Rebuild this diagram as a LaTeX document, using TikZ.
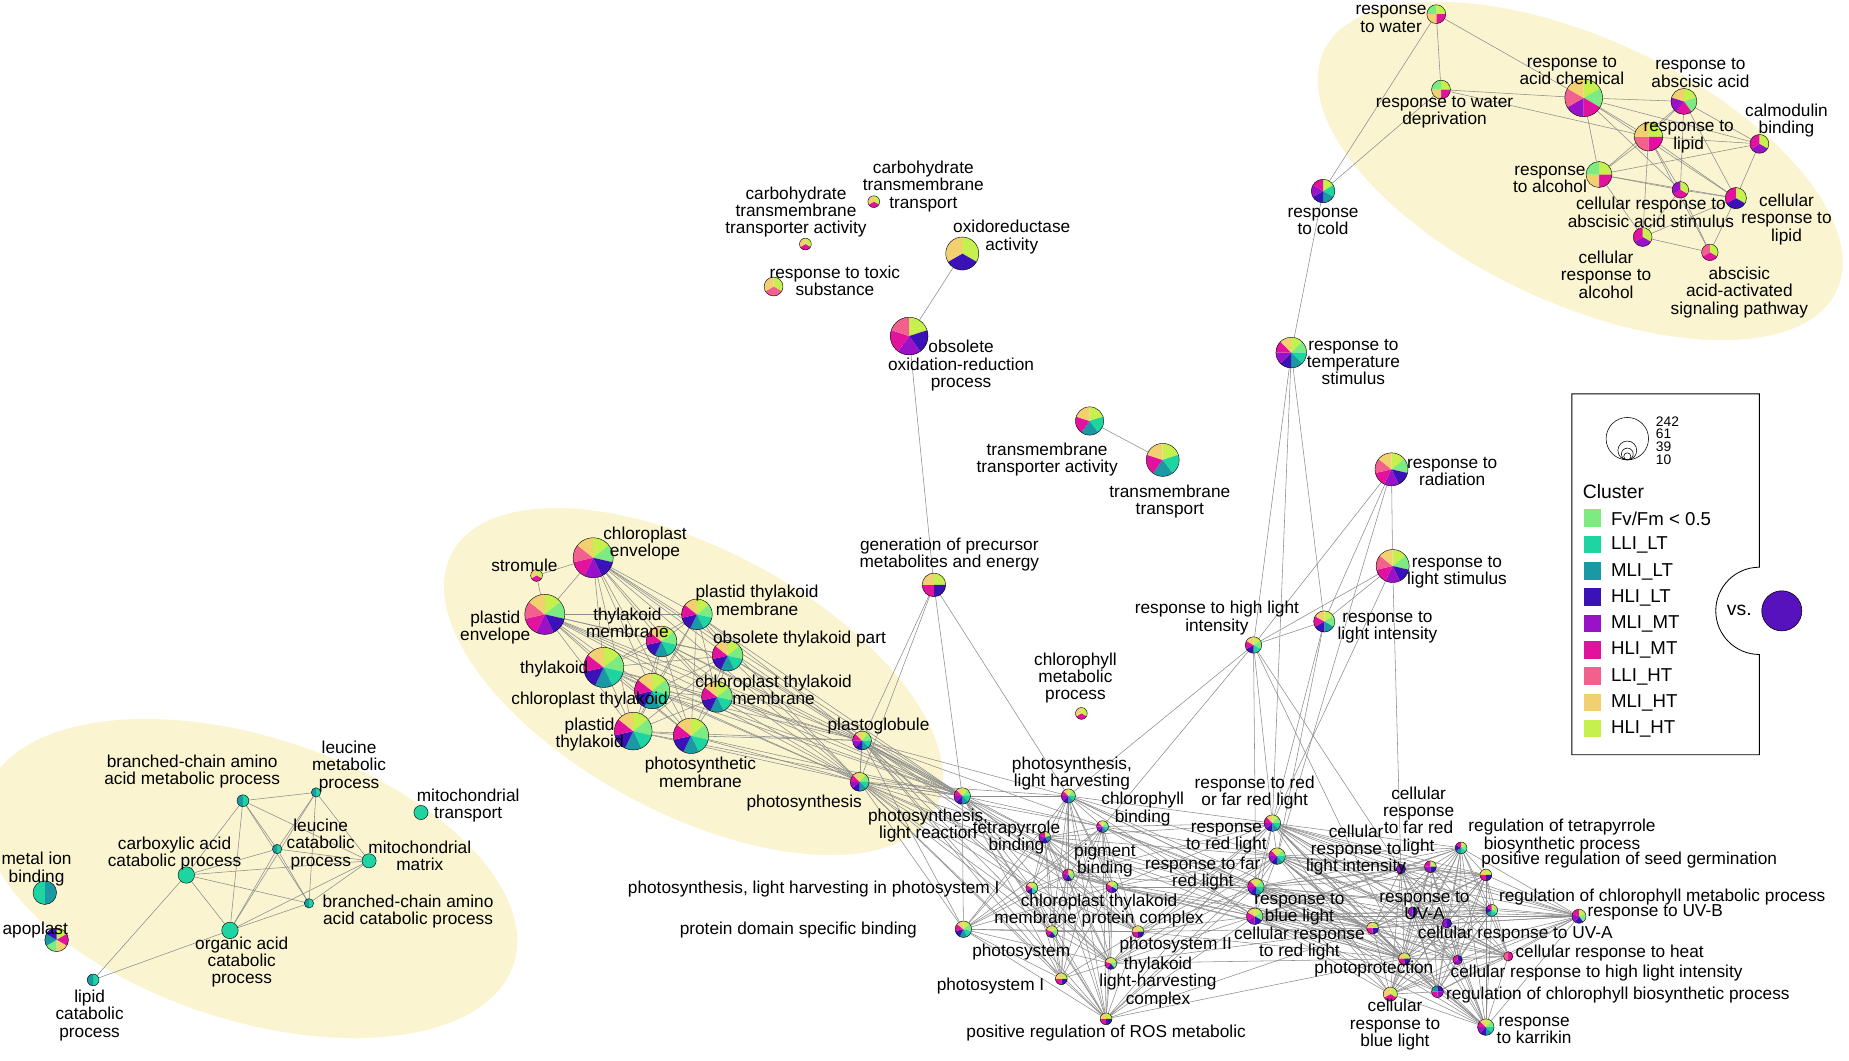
\documentclass[tikz,border=0pt]{standalone}
\usepackage{fontspec}
\setmainfont{Liberation Sans}
\usetikzlibrary{backgrounds}
\definecolor{fv}{HTML}{7CEB82}
\definecolor{llt}{HTML}{1ED4A0}
\definecolor{mlt}{HTML}{1A98A4}
\definecolor{hlt}{HTML}{3A12B8}
\definecolor{mmt}{HTML}{9A12C8}
\definecolor{hmt}{HTML}{E2129E}
\definecolor{lht}{HTML}{F2618E}
\definecolor{mht}{HTML}{F2D070}
\definecolor{hht}{HTML}{C6F04E}
\definecolor{blob}{HTML}{FAF5D0}
\tikzset{
  pie/.style={circle,inner sep=0pt,minimum size=#1*0.6mm},
  lab/.style={align=center,inner sep=0pt,font=\fontsize{12.5}{12.5}\selectfont},
  edge/.style={gray!90,line width=0.4pt},
}
% pie node: name, x, y, radius, colours
\newcommand{\pienode}[5]{%
  \node[pie=#4] (#1) at (#2,#3) {};
  \foreach \c [count=\i] in {#5} {\xdef\npie{\i}}
  \foreach \c [count=\i] in {#5} {
    \fill[\c] (#1.center) -- ++({90-360*(\i-1)/\npie}:#4*0.3mm)
      arc[start angle={90-360*(\i-1)/\npie}, end angle={90-360*\i/\npie}, radius=#4*0.3mm] -- cycle;}
  \draw[line width=0.3pt] (#1.center) circle[radius=#4*0.3mm];
}
\begin{document}
\begin{tikzpicture}[x=0.3mm,y=-0.3mm]
\useasboundingbox (0,0) rectangle (1568,899);
\begin{pgfonlayer}{background}
  \fill[blob,rotate around={-25:(1340,145)}] (1340,145) ellipse[x radius=240*0.3mm,y radius=112*0.3mm];
  \fill[blob,rotate around={-28:(588,578)}] (588,578) ellipse[x radius=232*0.3mm,y radius=112*0.3mm];
  \fill[blob,rotate around={-18:(212,745)}] (212,745) ellipse[x radius=235*0.3mm,y radius=120*0.3mm];
\end{pgfonlayer}
% top right
\pienode{rwater}{1218}{12}{8}{hht,hmt,mht,fv}
\pienode{rwdep}{1222}{76}{8}{hht,hmt,mht,fv}
\pienode{racid}{1343}{83}{16}{hht,fv,hmt,mmt,lht,mht}
\pienode{raba}{1428}{86}{11}{hht,fv,hmt,mmt,mht}
\pienode{rlipid}{1398}{116}{12}{hht,hmt,lht,mht}
\pienode{calm}{1492}{122}{8}{hht,mmt,hmt}
\pienode{ralc}{1356}{148}{11}{hht,hmt,mht,fv}
\pienode{cabas}{1425}{161}{7}{hht,hmt,mmt}
\pienode{crlipid}{1472}{168}{9}{hht,hlt,hmt}
\pienode{rcold}{1122}{162}{10}{hht,llt,mlt,hlt,mmt,hmt}
\pienode{cralc}{1393}{201}{8}{hht,mmt,hmt}
\pienode{abasig}{1450}{214}{7}{hht,hmt,lht}
\pienode{rtemp}{1095}{299}{13}{hht,fv,llt,mlt,hlt,mmt,hmt,mht}
\pienode{rrad}{1180}{398}{14}{hht,fv,hlt,mmt,hmt,lht,mht}
\pienode{rlstim}{1181}{480}{14}{hht,fv,hlt,mmt,hmt,lht,mht}
\pienode{rlint}{1123}{527}{9}{hht,fv,mlt,hlt,hmt,mht}
\pienode{rhlint}{1063}{547}{7}{hht,fv,llt,hlt,hmt,mht}
\node[lab,anchor=east] (rwater-l) at (1210,16) {response\\to water};
\node[lab] (rwdep-l) at (1225,95) {response to water\\deprivation};
\node[lab] (racid-l) at (1333,60) {response to\\acid chemical};
\node[lab] (raba-l) at (1442,62) {response to\\abscisic acid};
\node[lab] (rlipid-l) at (1432,116) {response to\\lipid};
\node[lab] (calm-l) at (1515,102) {calmodulin\\binding};
\node[lab,anchor=east] (ralc-l) at (1346,152) {response\\to alcohol};
\node[lab] (cabas-l) at (1400,180) {cellular response to\\abscisic acid stimulus};
\node[lab] (crlipid-l) at (1515,186) {cellular\\response to\\lipid};
\node[lab] (rcold-l) at (1122,188) {response\\to cold};
\node[lab] (cralc-l) at (1362,233) {cellular\\response to\\alcohol};
\node[lab] (abasig-l) at (1475,248) {abscisic\\acid-activated\\signaling pathway};
\node[lab,anchor=west] (rtemp-l) at (1108,307) {response to\\temperature\\stimulus};
\node[lab,anchor=west] (rrad-l) at (1193,400) {response to\\radiation};
\node[lab,anchor=west] (rlstim-l) at (1193,485) {response to\\light stimulus};
\node[lab,anchor=west] (rlint-l) at (1134,532) {response to\\light intensity};
\node[lab] (rhlint-l) at (1032,524) {response to high light\\intensity};
% middle top
\pienode{cbtt}{741}{171}{5}{hht,hmt,mht}
\pienode{cbta}{683}{207}{5}{hht,hmt,mht}
\pienode{oxact}{816}{215}{14}{hht,hlt,mht}
\pienode{rtox}{656}{243}{8}{hht,lht,mht}
\pienode{oxred}{771}{285}{16}{hht,hlt,mmt,hmt,lht}
\pienode{tmta}{924}{357}{12}{hht,llt,mlt,hmt,mht}
\pienode{tmt}{986}{390}{14}{hht,llt,mlt,hmt,mht}
\pienode{genprec}{792}{496}{10}{hht,hlt,hmt,mht}
\pienode{chlmet}{917}{605}{5}{hht,hmt,mht}
\node[lab] (cbtt-l) at (783,158) {carbohydrate\\transmembrane\\transport};
\node[lab] (cbta-l) at (675,180) {carbohydrate\\transmembrane\\transporter activity};
\node[lab] (oxact-l) at (858,201) {oxidoreductase\\activity};
\node[lab] (rtox-l) at (708,238) {response to toxic\\substance};
\node[lab] (oxred-l) at (815,310) {obsolete\\oxidation-reduction\\process};
\node[lab] (tmta-l) at (888,390) {transmembrane\\transporter activity};
\node[lab] (tmt-l) at (992,425) {transmembrane\\transport};
\node[lab] (genprec-l) at (805,470) {generation of precursor\\metabolites and energy};
\node[lab] (chlmet-l) at (912,575) {chlorophyll\\metabolic\\process};
% chloroplast cluster
\pienode{stromule}{455}{488}{5}{hht,hmt,mht}
\pienode{cenv}{503}{473}{17}{hht,fv,hlt,mmt,hmt,lht,mht}
\pienode{penv}{462}{521}{17}{hht,fv,hlt,mmt,hmt,lht,mht}
\pienode{ptm}{591}{521}{13}{hht,fv,llt,mlt,hlt,hmt,mht}
\pienode{tm}{561}{544}{13}{hht,fv,llt,mlt,hlt,hmt,mht}
\pienode{otp}{617}{556}{13}{hht,fv,llt,mlt,hlt,hmt,mht}
\pienode{thyl}{512}{566}{17}{hht,fv,llt,mlt,hlt,hmt,mht}
\pienode{chthyl}{553}{586}{15}{hht,fv,llt,mlt,hlt,hmt,mht}
\pienode{ctm}{608}{591}{13}{hht,fv,llt,mlt,hlt,hmt,mht}
\pienode{pthyl}{537}{620}{16}{hht,fv,llt,mlt,hlt,hmt,mht}
\pienode{psm}{586}{624}{15}{hht,fv,llt,mlt,hlt,hmt,mht}
\pienode{plglob}{731}{628}{8}{hht,fv,llt,mlt,hlt,mmt,hmt,mht}
\pienode{photos}{729}{663}{8}{hht,fv,llt,mlt,hlt,mmt,hmt,mht}
\node[lab,anchor=east] (stromule-l) at (473,479) {stromule};
\node[lab] (cenv-l) at (547,461) {chloroplast\\envelope};
\node[lab] (penv-l) at (420,532) {plastid\\envelope};
\node[lab] (ptm-l) at (642,509) {plastid thylakoid\\membrane};
\node[lab] (tm-l) at (532,528) {thylakoid\\membrane};
\node[lab] (otp-l) at (678,542) {obsolete thylakoid part};
\node[lab] (thyl-l) at (470,567) {thylakoid};
\node[lab] (chthyl-l) at (500,594) {chloroplast thylakoid};
\node[lab] (ctm-l) at (656,585) {chloroplast thylakoid\\membrane};
\node[lab] (pthyl-l) at (500,623) {plastid\\thylakoid};
\node[lab] (psm-l) at (594,655) {photosynthetic\\membrane};
\node[lab] (plglob-l) at (745,616) {plastoglobule};
\node[lab] (photos-l) at (682,681) {photosynthesis};
% bottom left cluster
\pienode{bcaamp}{206}{679}{5}{llt,mlt}
\pienode{lmp}{268}{672}{4}{llt,mlt}
\pienode{mito}{357}{689}{6}{llt}
\pienode{lcp}{235}{720}{4}{llt,mlt}
\pienode{mmat}{313}{730}{6}{llt}
\pienode{carb}{158}{742}{7}{llt}
\pienode{mib}{38}{757}{10}{mlt,llt}
\pienode{bcaac}{262}{766}{4}{llt,mlt}
\pienode{apo}{48}{797}{10}{hht,hmt,mht,fv,mlt,hlt}
\pienode{oacp}{195}{789}{7}{llt}
\pienode{lipcat}{79}{831}{5}{llt,mlt}
\node[lab] (bcaamp-l) at (163,654) {branched-chain amino\\acid metabolic process};
\node[lab] (lmp-l) at (296,650) {leucine\\metabolic\\process};
\node[lab] (mito-l) at (397,683) {mitochondrial\\transport};
\node[lab] (lcp-l) at (272,716) {leucine\\catabolic\\process};
\node[lab] (mmat-l) at (356,726) {mitochondrial\\matrix};
\node[lab] (carb-l) at (148,724) {carboxylic acid\\catabolic process};
\node[lab] (mib-l) at (31,737) {metal ion\\binding};
\node[lab] (bcaac-l) at (346,773) {branched-chain amino\\acid catabolic process};
\node[lab,anchor=west] (apo-l) at (2,789) {apoplast};
\node[lab] (oacp-l) at (205,816) {organic acid\\catabolic\\process};
\node[lab] (lipcat-l) at (76,861) {lipid\\catabolic\\process};
% bottom centre
\pienode{pslr}{816}{675}{7}{hht,fv,llt,mlt,hlt,mmt,hmt,mht}
\pienode{pslh}{906}{675}{6}{hht,fv,llt,mlt,hlt,mmt,hmt,mht}
\pienode{chlbind}{935}{701}{5}{hht,fv,llt,mlt,hlt,mmt,hmt,mht}
\pienode{tetra}{886}{710}{5}{hht,mlt,hlt,mmt,hmt}
\pienode{pigbind}{906}{742}{5}{hht,fv,hlt,mmt,hmt}
\pienode{pslhps1}{875}{753}{5}{hht,fv,llt,hlt,hmt,mht}
\pienode{mpc}{943}{752}{5}{hht,fv,hlt,mmt,hmt,mht}
\pienode{pdsb}{817}{788}{7}{hht,fv,llt,mlt,hlt,hmt,mht}
\pienode{psystem}{892}{790}{5}{hht,fv,hlt,hmt,mht}
\pienode{ps2}{965}{790}{5}{hht,hlt,hmt,mht}
\pienode{thylhc}{942}{817}{5}{hht,fv,hlt,hmt,mht}
\pienode{ps1}{900}{830}{5}{hht,hlt,hmt,mht}
\pienode{posros}{938}{864}{5}{hht,hlt,hmt,mht}
\node[lab] (pslr-l) at (787,700) {photosynthesis,\\light reaction};
\node[lab] (pslh-l) at (909,656) {photosynthesis,\\light harvesting};
\node[lab] (chlbind-l) at (969,686) {chlorophyll\\binding};
\node[lab] (tetra-l) at (862,710) {tetrapyrrole\\binding};
\node[lab] (pigbind-l) at (937,730) {pigment\\binding};
\node[lab] (pslhps1-l) at (690,754) {photosynthesis, light harvesting in photosystem I};
\node[lab] (mpc-l) at (932,772) {chloroplast thylakoid\\membrane protein complex};
\node[lab] (pdsb-l) at (677,789) {protein domain specific binding};
\node[lab] (psystem-l) at (866,807) {photosystem};
\node[lab] (ps2-l) at (997,801) {photosystem II};
\node[lab] (thylhc-l) at (982,833) {thylakoid\\light-harvesting\\complex};
\node[lab] (ps1-l) at (840,836) {photosystem I};
\node[lab] (posros-l) at (938,876) {positive regulation of ROS metabolic};
% bottom right
\pienode{rrfr}{1079}{698}{7}{hht,fv,llt,mlt,hlt,mmt,hmt,mht}
\pienode{rrl}{1083}{726}{7}{hht,fv,llt,mlt,hlt,mmt,hmt,mht}
\pienode{rfrl}{1065}{752}{7}{hht,fv,llt,mlt,hlt,mmt,hmt,mht}
\pienode{rblue}{1064}{777}{7}{hht,fv,hlt,mmt,hmt,mht}
\pienode{crrl}{1164}{787}{5}{hht,hlt,hmt,mht}
\pienode{crli}{1188}{737}{4}{hlt,mmt}
\pienode{crfr}{1213}{735}{5}{hht,hlt,mmt,hmt}
\pienode{regtetra}{1239}{719}{5}{hht,fv,llt,mlt,hlt,hmt}
\pienode{posseed}{1260}{742}{5}{hht,hlt,hmt,mht}
\pienode{regchlmet}{1265}{772}{5}{hht,fv,llt,mlt,hlt,hmt}
\pienode{rUVB}{1339}{777}{6}{hht,fv,hlt,mmt,hmt}
\pienode{crUVA}{1227}{783}{4}{hlt,mmt}
\pienode{rUVA}{1198}{773}{4}{hlt,mmt}
\pienode{crheat}{1279}{811}{4}{hmt,lht}
\pienode{crhli}{1236}{814}{4}{hlt,mmt,hmt}
\pienode{regchlbio}{1219}{841}{5}{hlt,mmt,hmt,mlt}
\pienode{rkarr}{1260}{871}{7}{hht,fv,llt,mlt,hlt,mmt,hmt,mht}
\pienode{photoprot}{1191}{813}{5}{hht,hlt,hmt,mht}
\pienode{crblue}{1179}{843}{6}{hht,hmt,mht}
\node[lab] (rrfr-l) at (1064,672) {response to red\\or far red light};
\node[lab] (rrl-l) at (1040,711) {response\\to red light};
\node[lab] (rfrl-l) at (1020,741) {response to far\\red light};
\node[lab] (rblue-l) at (1102,771) {response to\\blue light};
\node[lab] (crrl-l) at (1102,800) {cellular response\\to red light};
\node[lab] (crli-l) at (1150,721) {cellular\\response to\\light intensity};
\node[lab] (crfr-l) at (1203,696) {cellular\\response\\to far red\\light};
\node[lab,anchor=west] (regtetra-l) at (1245,709) {regulation of tetrapyrrole\\biosynthetic process};
\node[lab,anchor=west] (posseed-l) at (1256,729) {positive regulation of seed germination};
\node[lab,anchor=west] (regchlmet-l) at (1271,761) {regulation of chlorophyll metabolic process};
\node[lab,anchor=west] (rUVB-l) at (1346,774) {response to UV-B};
\node[lab] (crUVA-l) at (1285,792) {cellular response to UV-A};
\node[lab] (rUVA-l) at (1208,768) {response to\\UV-A};
\node[lab,anchor=west] (crheat-l) at (1285,808) {cellular response to heat};
\node[lab,anchor=west] (crhli-l) at (1230,825) {cellular response to high light intensity};
\node[lab,anchor=west] (regchlbio-l) at (1226,844) {regulation of chlorophyll biosynthetic process};
\node[lab,anchor=west] (rkarr-l) at (1269,874) {response\\to karrikin};
\node[lab] (photoprot-l) at (1165,822) {photoprotection};
\node[lab] (crblue-l) at (1183,869) {cellular\\response to\\blue light};
% connectors
\begin{pgfonlayer}{background}
\foreach \a/\b in {rwater/rwdep,rwater/racid,rwater/rcold,rwdep/racid,rwdep/rlipid,rwdep/rcold,
  racid/raba,racid/rlipid,racid/ralc,racid/cabas,racid/calm,racid/crlipid,raba/rlipid,raba/calm,
  raba/cabas,raba/crlipid,raba/ralc,rlipid/ralc,rlipid/calm,rlipid/cabas,rlipid/crlipid,rlipid/cralc,
  rlipid/abasig,calm/crlipid,calm/ralc,ralc/cabas,ralc/cralc,ralc/crlipid,cabas/crlipid,cabas/abasig,
  cabas/cralc,crlipid/abasig,cralc/abasig,crlipid/cralc,
  rcold/rtemp,rtemp/rhlint,rtemp/rlint,rtemp/rrfr,rrad/rlstim,rrad/rhlint,rrad/rlint,rrad/rrl,
  rlstim/rlint,rlstim/rhlint,rlstim/rrfr,rlstim/crli,rlint/rhlint,rlint/rrfr,rlint/rrl,rhlint/rrfr,
  rhlint/pslh,rhlint/chlbind,rhlint/rfrl,rhlint/crli,rhlint/photoprot,
  oxact/oxred,oxred/genprec,tmta/tmt,genprec/plglob,genprec/photos,genprec/pslr,genprec/pslh,
  stromule/cenv,stromule/penv,
  bcaamp/lmp,bcaamp/lcp,bcaamp/carb,bcaamp/oacp,bcaamp/bcaac,bcaamp/mmat,lmp/lcp,lmp/mmat,
  lmp/bcaac,lmp/oacp,lcp/mmat,lcp/bcaac,lcp/carb,lcp/oacp,carb/oacp,carb/bcaac,carb/mmat,
  oacp/mmat,oacp/bcaac,oacp/lipcat,carb/lipcat,mmat/bcaac}
  \draw[edge] (\a) -- (\b);
\foreach \a [count=\i] in {cenv,penv,ptm,tm,otp,thyl,chthyl,ctm,pthyl,psm,plglob,photos,pslr}
  \foreach \b [count=\j] in {cenv,penv,ptm,tm,otp,thyl,chthyl,ctm,pthyl,psm,plglob,photos,pslr}
    {\ifnum\j>\i \draw[edge] (\a) -- (\b);\fi}
\foreach \a [count=\i] in {pslr,pslh,chlbind,tetra,pigbind,pslhps1,mpc,pdsb,psystem,ps2,thylhc,ps1,posros,plglob,photos}
  \foreach \b [count=\j] in {pslr,pslh,chlbind,tetra,pigbind,pslhps1,mpc,pdsb,psystem,ps2,thylhc,ps1,posros,plglob,photos}
    {\ifnum\j>\i \draw[edge] (\a) -- (\b);\fi}
\foreach \a [count=\i] in {rrfr,rrl,rfrl,rblue,crrl,crli,crfr,regtetra,posseed,regchlmet,rUVB,crUVA,rUVA,crheat,crhli,regchlbio,rkarr,photoprot,crblue}
  \foreach \b [count=\j] in {rrfr,rrl,rfrl,rblue,crrl,crli,crfr,regtetra,posseed,regchlmet,rUVB,crUVA,rUVA,crheat,crhli,regchlbio,rkarr,photoprot,crblue}
    {\ifnum\j>\i \draw[edge] (\a) -- (\b);\fi}
\foreach \a in {pslh,chlbind,pigbind,mpc,ps2,thylhc,tetra,posros}
  \foreach \b in {rrfr,rrl,rfrl,rblue,crrl,photoprot}
    \draw[edge] (\a) -- (\b);
\end{pgfonlayer}
% legend
\draw[line width=0.6pt] (1333,334) -- (1492,334) -- (1492,481)
  arc[start angle=90,end angle=270,radius=37*0.3mm] -- (1492,640) -- (1333,640) -- cycle;
\foreach \r in {18,8,5,3} \draw[line width=0.4pt] (1380,390-\r) circle[radius=\r*0.3mm];
\foreach \t/\y in {242/358,61/368,39/379,10/390}
  \node[lab,anchor=west,font=\fontsize{10}{10}\selectfont] (size-\t) at (1404,\y) {\t};
\node[lab,anchor=west,font=\fontsize{14}{14}\selectfont] (clus) at (1342,417) {Cluster};
\foreach \c/\t [count=\k] in {fv/{Fv/Fm < 0.5},llt/LLI\_LT,mlt/MLI\_LT,hlt/HLI\_LT,mmt/MLI\_MT,hmt/HLI\_MT,lht/LLI\_HT,mht/MLI\_HT,hht/HLI\_HT}{
  \fill[\c] (1343,{432+22.3*(\k-1)}) rectangle ++(15,15);
  \node[lab,anchor=west,font=\fontsize{13.5}{13.5}\selectfont] (key-\k) at (1366,{440+22.3*(\k-1)}) {\t};}
\node[lab,font=\fontsize{14}{14}\selectfont] (vs) at (1475,518) {vs.};
\node[circle,draw,fill=hlt!70!mmt,minimum size=34*0.3mm,inner sep=0pt] (vsdot) at (1511,518) {};
\end{tikzpicture}
\end{document}
